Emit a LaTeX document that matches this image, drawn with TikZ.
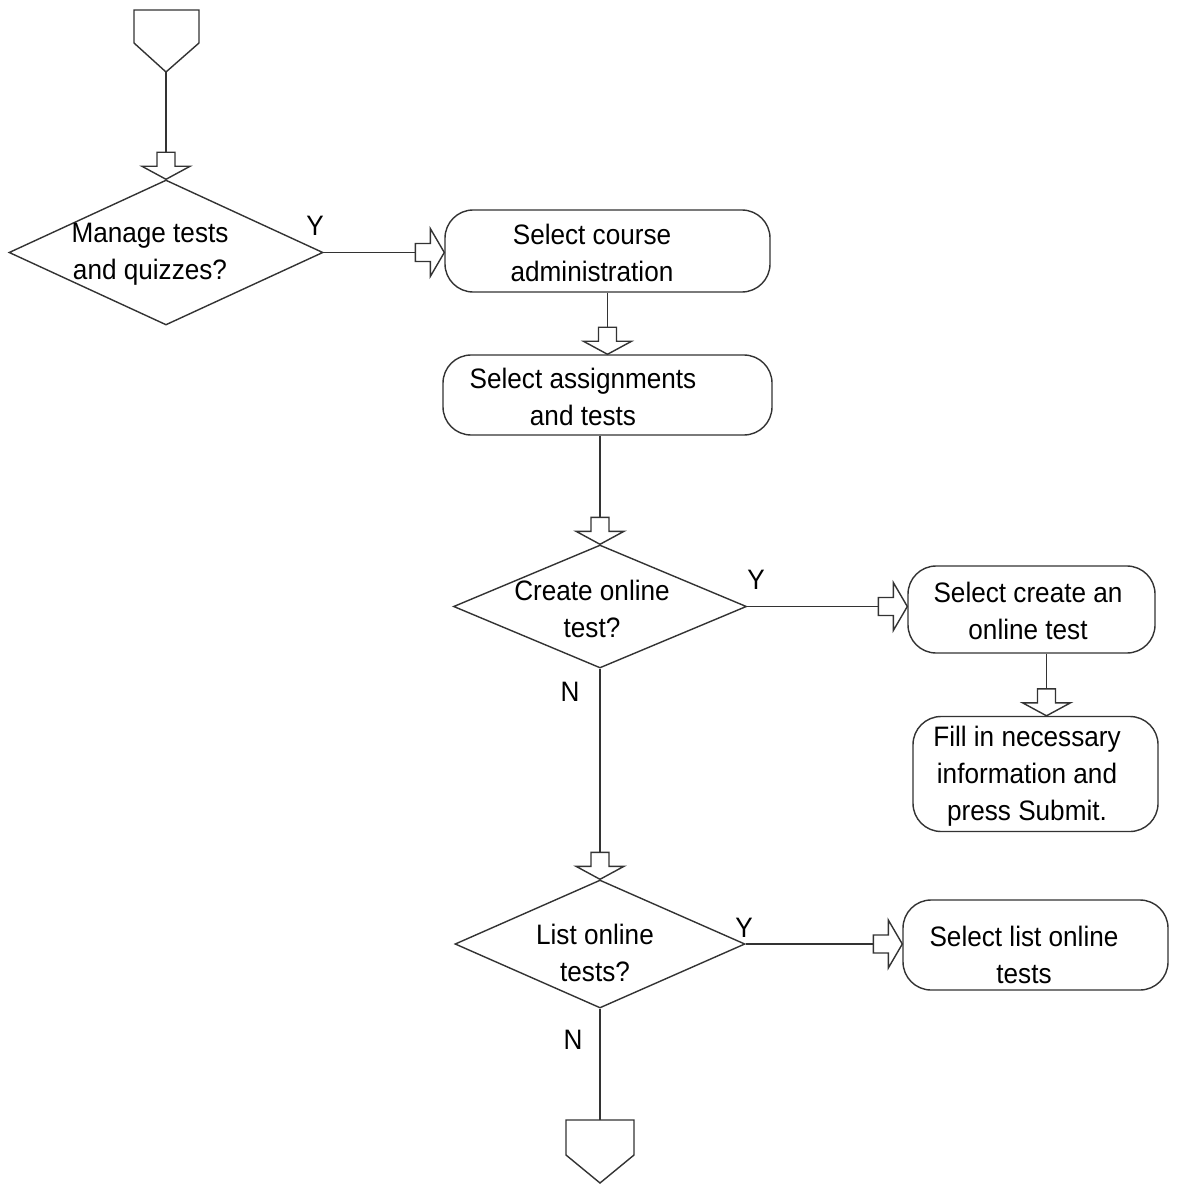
\documentclass[tikz,border=0pt]{standalone}
\usepackage{fontspec}
\setmainfont{Liberation Sans}[FakeStretch=0.93]
\usetikzlibrary{shapes.geometric,calc}
\begin{document}
\begin{tikzpicture}[x=0.02cm,y=-0.02cm,
  flow/.style={draw=black!80, line width=0.8pt},
  decision/.style={flow, diamond, inner sep=0pt},
  stepbox/.style={flow, rectangle, rounded corners=16pt, inner sep=0pt},
  caption/.style={align=center, font=\fontsize{16}{21}\selectfont},
  yn/.style={font=\fontsize{16}{20}\selectfont},
  pics/downhead/.style={code={\draw[flow,fill=white] (0,0)--(-24,-13)--(-9,-13)--(-9,-27)--(9,-27)--(9,-13)--(24,-13)--cycle;}},
  pics/righthead/.style={code={\draw[flow,fill=white] (0,0)--(-14,-24)--(-14,-9)--(-29,-9)--(-29,9)--(-14,9)--(-14,24)--cycle;}},
]
\fill[white] (0,0) rectangle (1181,1185);
\useasboundingbox (0,0) rectangle (1181,1185);

% off-page connector at the top
\draw[flow] (134,10) -- (199,10) -- (199,43) -- (166,72) -- (134,43) -- cycle;
\coordinate (s) at (166,72);

% decisions
\node[decision, minimum width=314*0.02cm, minimum height=145*0.02cm] (d1) at (166,252.5) {};
\node[caption] (t1) at (150,254) {Manage tests\\and quizzes?};
\node[decision, minimum width=293*0.02cm, minimum height=123*0.02cm] (d2) at (600,606.5) {};
\node[caption] (t2) at (592,609) {Create online\\test?};
\node[decision, minimum width=290*0.02cm, minimum height=128*0.02cm] (d3) at (600,944) {};
\node[caption] (t3) at (595,953) {List online\\tests?};

% process steps
\node[stepbox, minimum width=325*0.02cm, minimum height=82*0.02cm] (b1) at (607.5,251) {};
\node[caption] (tb1) at (592,253) {Select course\\administration};
\node[stepbox, minimum width=329*0.02cm, minimum height=80*0.02cm] (b2) at (607.5,395) {};
\node[caption] (tb2) at (583,397) {Select assignments\\and tests};
\node[stepbox, minimum width=247*0.02cm, minimum height=87*0.02cm] (b3) at (1031.5,609.5) {};
\node[caption] (tb3) at (1028,611) {Select create an\\online test};
\node[stepbox, minimum width=245*0.02cm, minimum height=115*0.02cm] (b4) at (1035.5,774) {};
\node[caption] (tb4) at (1027,776) {Fill in necessary\\information and\\press Submit.};
\node[stepbox, minimum width=265*0.02cm, minimum height=90*0.02cm] (b5) at (1035.5,945) {};
\node[caption] (tb5) at (1024,955) {Select list online\\tests};

% off-page connector at the bottom
\coordinate (e) at (600,1120);
\draw[flow] (566,1120) -- (634,1120) -- (634,1155) -- (600,1183) -- (566,1155) -- cycle;

% branch labels
\node[yn] (y1) at (315,226) {Y};
\node[yn] (y2) at (756,580) {Y};
\node[yn] (y3) at (744,928) {Y};
\node[yn] (n2) at (570,692) {N};
\node[yn] (n3) at (573,1040) {N};

% connectors
\draw[flow] (s) -- (d1.north);
\pic at (d1.north) {downhead};
\draw[flow] (d1.east) -- (d1.east -| b1.west);
\pic at (d1.east -| b1.west) {righthead};
\draw[flow] (b1.south) -- (b2.north);
\pic at (b2.north) {downhead};
\draw[flow] (d2.north |- b2.south) -- (d2.north);
\pic at (d2.north) {downhead};
\draw[flow] (d2.east) -- (d2.east -| b3.west);
\pic at (d2.east -| b3.west) {righthead};
\coordinate (b3o) at ($(b3.south)+(15,0)$);
\draw[flow] (b3o) -- (b3o |- b4.north);
\pic at (b3o |- b4.north) {downhead};
\draw[flow] (d2.south) -- (d3.north);
\pic at (d3.north) {downhead};
\draw[flow] (d3.east) -- (d3.east -| b5.west);
\pic at (d3.east -| b5.west) {righthead};
\draw[flow] (d3.south) -- (e);
\end{tikzpicture}
\end{document}
